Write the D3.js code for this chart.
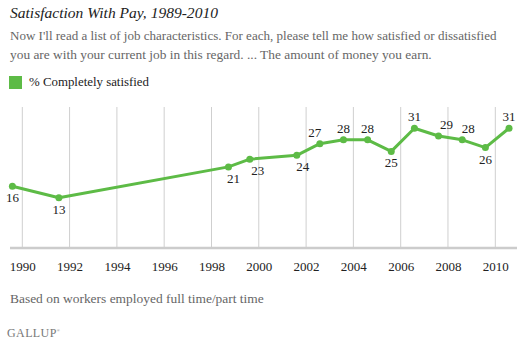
<!DOCTYPE html>
<meta charset="utf-8">
<title>Satisfaction With Pay</title>
<script src="https://d3js.org/d3.v7.min.js"></script>
<style>
  body { margin: 0; background: #fff; }
  text { font-family: "Liberation Serif", Georgia, serif; }
</style>
<body>
<div id="chart"></div>
<script>

// data
var surveyDates = ["1989-08-01", "1991-07-20", "1998-09-20", "1999-08-15", "2001-08-10",
  "2002-08-01", "2003-08-01", "2004-08-08", "2005-08-08", "2006-08-01",
  "2007-08-08", "2008-08-08", "2009-08-01", "2010-08-01"];
var completelySatisfied = [16, 13, 21, 23, 24, 27, 28, 28, 25, 31, 29, 28, 26, 31];
var tickYears = [1990, 1992, 1994, 1996, 1998, 2000, 2002, 2004, 2006, 2008, 2010];

// label placement (layout only)
var labelSide = ["below", "below", "below", "below", "below", "above", "above",
  "above", "below", "above", "above", "above", "below", "above"];
var labelNudge = [0, 0, 5, 8, 6, -5, 0, 0, 0, 0, 8, 6, 0, 0];

var W = 524, H = 344;
var green = "#5dbb46";
var serif = "\"Liberation Serif\", Georgia, serif";

var svg = d3.select("#chart").append("svg")
  .attr("width", W).attr("height", H);

// size a text so it spans about the same width as in the original
function fitTo(sel, target) {
  var base = parseFloat(sel.style("font-size"));
  var len = sel.node().getComputedTextLength();
  sel.style("font-size", (base * target / len).toFixed(2) + "px");
  return sel;
}

var parse = d3.timeParse("%Y-%m-%d");
var data = surveyDates.map(function (d, i) {
  return { date: parse(d), value: completelySatisfied[i], side: labelSide[i], nudge: labelNudge[i] };
});

var x = d3.scaleTime()
  .domain([new Date(1990, 0, 1), new Date(2010, 0, 1)])
  .range([22.3, 495.3]);
var y = d3.scaleLinear()
  .domain([0, 36.5])
  .range([248, 107]);

// titles
fitTo(svg.append("text").attr("x", 10).attr("y", 18)
  .style("font-style", "italic").style("font-size", "14px").style("fill", "#222")
  .text("Satisfaction With Pay, 1989-2010"), 208);
fitTo(svg.append("text").attr("x", 10).attr("y", 40)
  .style("font-size", "13px").style("fill", "#666")
  .text("Now I'll read a list of job characteristics. For each, please tell me how satisfied or dissatisfied"), 487);
fitTo(svg.append("text").attr("x", 10).attr("y", 59)
  .style("font-size", "13px").style("fill", "#666")
  .text("you are with your current job in this regard. ... The amount of money you earn."), 422);

// legend
svg.append("rect").attr("x", 9).attr("y", 76).attr("width", 13).attr("height", 13)
  .style("fill", green);
fitTo(svg.append("text").attr("x", 29).attr("y", 86)
  .style("font-size", "12.8px").style("fill", "#222")
  .text("% Completely satisfied"), 120);

// grid lines
svg.append("g")
  .selectAll("line")
  .data(tickYears)
  .enter().append("line")
  .attr("x1", function (d) { return x(new Date(d, 0, 1)); })
  .attr("x2", function (d) { return x(new Date(d, 0, 1)); })
  .attr("y1", y.range()[1])
  .attr("y2", y.range()[0])
  .style("stroke", "#cfcfcf").style("stroke-width", 1);

// baseline
svg.append("line")
  .attr("x1", 10).attr("x2", 517)
  .attr("y1", y(0)).attr("y2", y(0))
  .style("stroke", "#cccccc").style("stroke-width", 2.5);

// x axis labels
var xAxis = d3.axisBottom(x)
  .tickValues(tickYears.map(function (d) { return new Date(d, 0, 1); }))
  .tickFormat(d3.timeFormat("%Y"))
  .tickSize(0).tickPadding(0);
var gx = svg.append("g")
  .attr("transform", "translate(0," + 262 + ")")
  .call(xAxis);
gx.select(".domain").remove();
gx.selectAll("text")
  .attr("dy", "0.71em")
  .style("font-family", serif)
  .style("font-size", "13px").style("fill", "#222");

// line
var line = d3.line()
  .x(function (d) { return x(d.date); })
  .y(function (d) { return y(d.value); });
svg.append("path").datum(data)
  .attr("d", line)
  .style("fill", "none").style("stroke", green)
  .style("stroke-width", 3).style("stroke-linejoin", "round");

svg.append("g").selectAll("circle")
  .data(data).enter().append("circle")
  .attr("cx", function (d) { return x(d.date); })
  .attr("cy", function (d) { return y(d.value); })
  .attr("r", 3.5)
  .style("fill", green);

// value labels
svg.append("g").selectAll("text")
  .data(data).enter().append("text")
  .attr("x", function (d) { return x(d.date) + d.nudge; })
  .attr("y", function (d) { return y(d.value) + (d.side === "above" ? -7 : 16); })
  .attr("text-anchor", "middle")
  .style("font-size", "13px").style("fill", "#222")
  .text(function (d) { return d.value; });

// footer
fitTo(svg.append("text").attr("x", 10).attr("y", 303)
  .style("font-size", "13px").style("fill", "#666")
  .text("Based on workers employed full time/part time"), 254);
var brand = svg.append("text").attr("x", 7).attr("y", 337)
  .style("font-size", "12px").style("letter-spacing", "0.4px").style("fill", "#777");
brand.append("tspan").text("GALLUP");
brand.append("tspan").attr("dy", -5).style("font-size", "4px").text("®");

</script>
</body>
